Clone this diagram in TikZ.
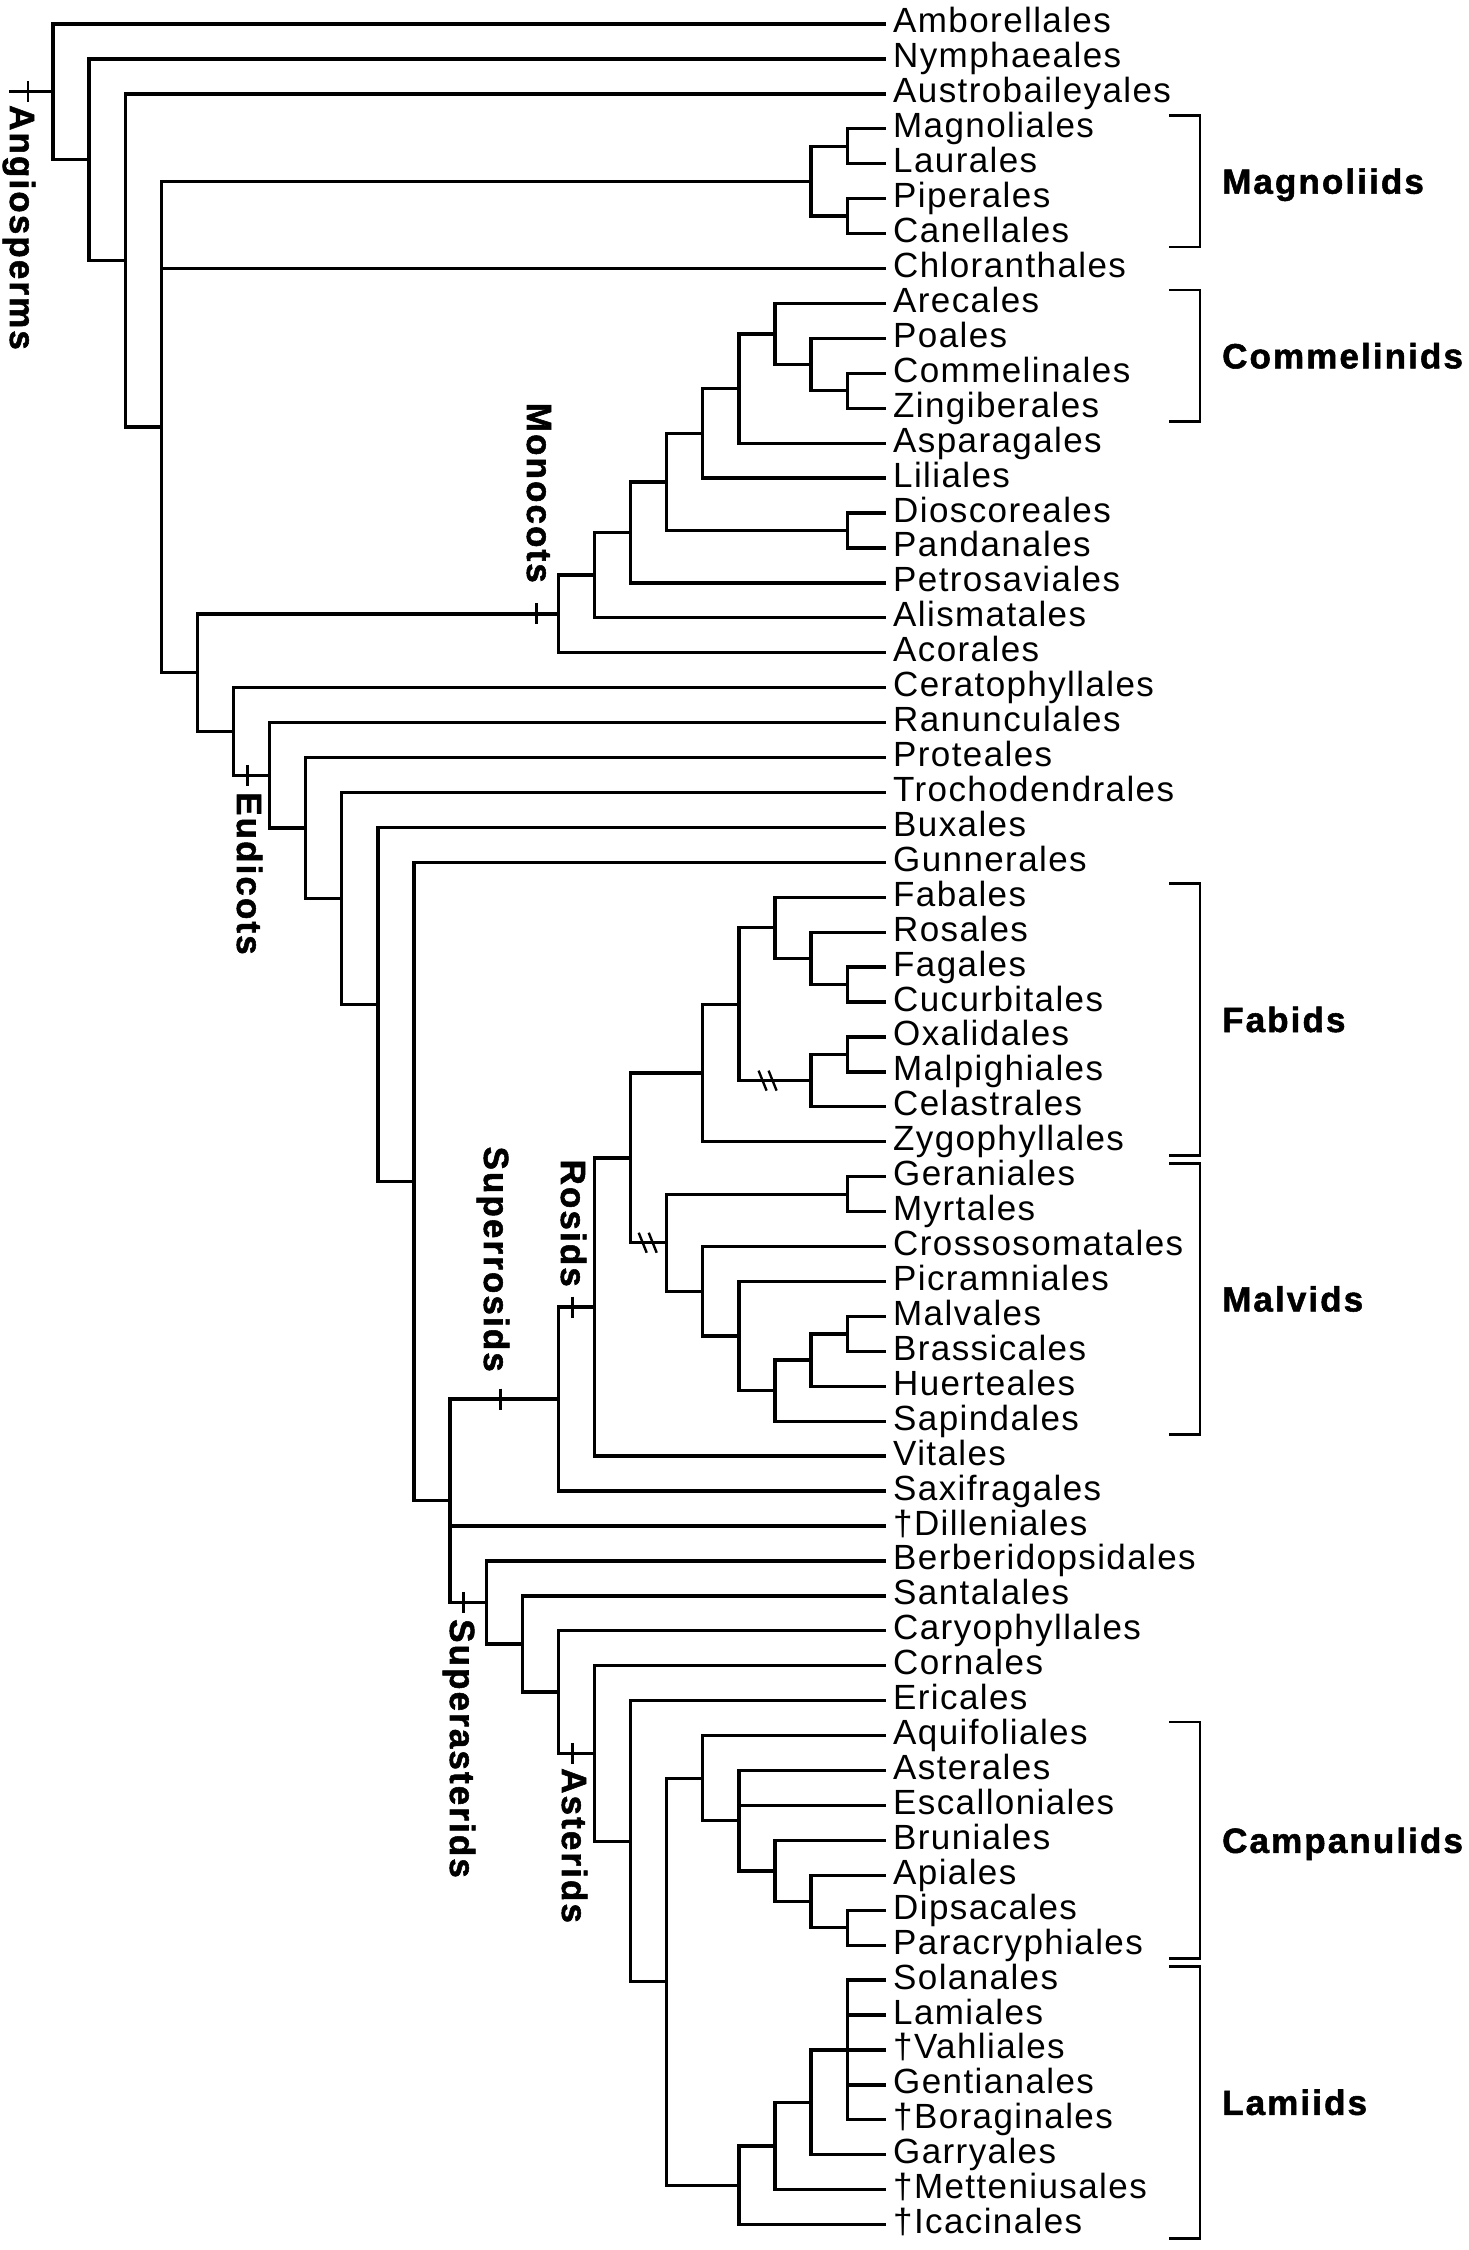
\documentclass[tikz,border=0pt]{standalone}
\usepackage{fontspec}
\setmainfont{Liberation Sans}
\newfontfamily\leaffont[LetterSpace=4]{Liberation Sans}
\newfontfamily\cladefont[LetterSpace=6,BoldFeatures={FakeBold=1.5}]{Liberation Sans}
\usetikzlibrary{calc}
\newcommand\mkclade[4]{\path let \p1=(#3), \p2=(#4) in ({(53+36.1*#2)*1pt},{0.5*\y1+0.5*\y2}) coordinate (#1);}
\tikzset{
  br/.style={line width=3.3pt},
  tickmark/.style={line width=2.6pt},
  slashmark/.style={line width=2.4pt},
  bracketline/.style={line width=2.8pt},
  leaf/.style={anchor=base west, inner sep=0pt, font=\leaffont\fontsize{35}{40}\selectfont},
  cladelab/.style={anchor=base west, inner sep=0pt, font=\cladefont\bfseries\fontsize{35}{40}\selectfont},
  rlab/.style={rotate=-90, inner sep=0pt, font=\cladefont\bfseries\fontsize{35}{40}\selectfont},
}
\begin{document}
\begin{tikzpicture}[x=1pt,y=1pt]
\fill[white] (0,0) rectangle (1468,-2250);
\useasboundingbox (0,0) rectangle (1468,-2250);
% leaves
\foreach \n [count=\i] in {Amborellales,Nymphaeales,Austrobaileyales,Magnoliales,Laurales,Piperales,Canellales,Chloranthales,Arecales,Poales,Commelinales,Zingiberales,Asparagales,Liliales,Dioscoreales,Pandanales,Petrosaviales,Alismatales,Acorales,Ceratophyllales,Ranunculales,Proteales,Trochodendrales,Buxales,Gunnerales,Fabales,Rosales,Fagales,Cucurbitales,Oxalidales,Malpighiales,Celastrales,Zygophyllales,Geraniales,Myrtales,Crossosomatales,Picramniales,Malvales,Brassicales,Huerteales,Sapindales,Vitales,Saxifragales,†Dilleniales,Berberidopsidales,Santalales,Caryophyllales,Cornales,Ericales,Aquifoliales,Asterales,Escalloniales,Bruniales,Apiales,Dipsacales,Paracryphiales,Solanales,Lamiales,†Vahliales,Gentianales,†Boraginales,Garryales,†Metteniusales,†Icacinales}{
  \coordinate (L\i) at (886,{-(24+34.93*(\i-1))});
  \node[leaf] (T\i) at (893,{-(33+34.93*(\i-1))}) {\n};
}
% internal nodes (bottom-up)
\mkclade{MA}{22}{L4}{L5}\mkclade{MB}{22}{L6}{L7}\mkclade{Mag}{21}{MA}{MB}
\mkclade{M22}{22}{L11}{L12}\mkclade{M21}{21}{L10}{M22}\mkclade{M20}{20}{L9}{M21}
\mkclade{M19}{19}{M20}{L13}\mkclade{M18}{18}{M19}{L14}\mkclade{M22b}{22}{L15}{L16}
\mkclade{M17}{17}{M18}{M22b}\mkclade{M16}{16}{M17}{L17}\mkclade{M15}{15}{M16}{L18}
\mkclade{M14}{14}{M15}{L19}
\mkclade{F22}{22}{L28}{L29}\mkclade{F21}{21}{L27}{F22}\mkclade{F20}{20}{L26}{F21}
\mkclade{Co22}{22}{L30}{L31}\mkclade{Co21}{21}{Co22}{L32}\mkclade{F19}{19}{F20}{Co21}
\mkclade{F18}{18}{F19}{L33}
\mkclade{V22a}{22}{L34}{L35}\mkclade{V22b}{22}{L38}{L39}\mkclade{V21}{21}{V22b}{L40}
\mkclade{V20}{20}{V21}{L41}\mkclade{V19}{19}{L37}{V20}\mkclade{V18}{18}{L36}{V19}
\mkclade{V17}{17}{V22a}{V18}
\mkclade{R16}{16}{F18}{V17}\mkclade{R15}{15}{R16}{L42}\mkclade{SR}{14}{R15}{L43}
\mkclade{Cp22}{22}{L55}{L56}\mkclade{Cp21}{21}{L54}{Cp22}\mkclade{Cp20}{20}{L53}{Cp21}
\mkclade{Cp19}{19}{L51}{Cp20}\mkclade{Cp18}{18}{L50}{Cp19}
\mkclade{La22}{22}{L57}{L61}\mkclade{La21}{21}{La22}{L62}\mkclade{La20}{20}{La21}{L63}
\mkclade{La19}{19}{La20}{L64}
\mkclade{E17}{17}{Cp18}{La19}\mkclade{A16}{16}{L49}{E17}\mkclade{A15}{15}{L48}{A16}
\mkclade{S14}{14}{L47}{A15}\mkclade{S13}{13}{L46}{S14}\mkclade{SA}{12}{L45}{S13}
\mkclade{N11}{11}{SR}{SA}\mkclade{N10}{10}{L25}{N11}\mkclade{N9}{9}{L24}{N10}
\mkclade{N8}{8}{L23}{N9}\mkclade{N7}{7}{L22}{N8}\mkclade{Eud}{6}{L21}{N7}
\mkclade{N5}{5}{L20}{Eud}\mkclade{N4}{4}{M14}{N5}\mkclade{N3}{3}{Mag}{N4}
\mkclade{N2}{2}{L3}{N3}\mkclade{N1}{1}{L2}{N2}\mkclade{N0}{0}{L1}{N1}
% branches
\foreach \p/\c in {N0/L1,N0/N1,N1/L2,N1/N2,N2/L3,N2/N3,N3/Mag,N3/L8,N3/N4,Mag/MA,Mag/MB,MA/L4,MA/L5,MB/L6,MB/L7,
N4/M14,N4/N5,M14/M15,M14/L19,M15/M16,M15/L18,M16/M17,M16/L17,M17/M18,M17/M22b,M22b/L15,M22b/L16,M18/M19,M18/L14,M19/M20,M19/L13,M20/L9,M20/M21,M21/L10,M21/M22,M22/L11,M22/L12,
N5/L20,N5/Eud,Eud/L21,Eud/N7,N7/L22,N7/N8,N8/L23,N8/N9,N9/L24,N9/N10,N10/L25,N10/N11,
N11/SR,N11/L44,N11/SA,
SR/R15,SR/L43,R15/R16,R15/L42,R16/F18,R16/V17,
F18/F19,F18/L33,F19/F20,F19/Co21,F20/L26,F20/F21,F21/L27,F21/F22,F22/L28,F22/L29,Co21/Co22,Co21/L32,Co22/L30,Co22/L31,
V17/V22a,V17/V18,V22a/L34,V22a/L35,V18/L36,V18/V19,V19/L37,V19/V20,V20/V21,V20/L41,V21/V22b,V21/L40,V22b/L38,V22b/L39,
SA/L45,SA/S13,S13/L46,S13/S14,S14/L47,S14/A15,A15/L48,A15/A16,A16/L49,A16/E17,E17/Cp18,E17/La19,
Cp18/L50,Cp18/Cp19,Cp19/L51,Cp19/L52,Cp19/Cp20,Cp20/L53,Cp20/Cp21,Cp21/L54,Cp21/Cp22,Cp22/L55,Cp22/L56,
La19/La20,La19/L64,La20/La21,La20/L63,La21/La22,La21/L62,La22/L57,La22/L58,La22/L59,La22/L60,La22/L61}
  {\draw[br] (\p) |- (\c);}
% root stem
\coordinate (root) at ($(N0)+(-44,0)$);
\draw[br] (root) -- (N0);
% ticks
\coordinate (tAng) at ($(N0)+(-25,0)$);
\coordinate (tMon) at ($(M14)+(-22,0)$);
\coordinate (tEud) at ($(Eud)+(-22,0)$);
\coordinate (tSRo) at ($(SR)+(-58,0)$);
\coordinate (tRos) at ($(R15)+(-22,0)$);
\coordinate (tSAs) at ($(SA)+(-23,0)$);
\coordinate (tAst) at ($(A15)+(-22,0)$);
\foreach \t in {tAng,tMon,tEud,tSRo,tRos,tSAs,tAst}
  {\draw[tickmark] ($(\t)+(0,10.5)$) -- ($(\t)+(0,-10.5)$);}
% slash marks
\coordinate (sFab) at ($(Co21)+(-43.5,0)$);
\coordinate (sMal) at ($(V17)+(-19,0)$);
\foreach \s in {sFab,sMal}{
  \draw[slashmark] ($(\s)+(-9,10)$) -- ($(\s)+(-1,-10)$);
  \draw[slashmark] ($(\s)+(1,10)$) -- ($(\s)+(9,-10)$);
}
% rotated clade labels
\node[rlab,anchor=base west] (angio) at (10,-105) {Angiosperms};
\node[rlab,anchor=base east] (mono) at (527,-583) {Monocots};
\node[rlab,anchor=base west] (eudi) at (237,-792) {Eudicots};
\node[rlab,anchor=base east] (rosi) at (561,-1287) {Rosids};
\node[rlab,anchor=base east] (supr) at (484,-1372) {Superrosids};
\node[rlab,anchor=base west] (supa) at (450,-1619) {Superasterids};
\node[rlab,anchor=base west] (aste) at (562,-1768) {Asterids};
% brackets
\foreach \a/\b/\lab in {4/7/Magnoliids,9/12/Commelinids,26/33/Fabids,34/41/Malvids,50/56/Campanulids,57/64/Lamiids}{
  \draw[bracketline] ($(L\a)+(283,13.5)$) -| ($(L\b)+(314,-13.5)$) -- ($(L\b)+(283,-13.5)$);
  \node[cladelab] (lab\lab) at ($($(L\a)!0.5!(L\b)$)+(336,-12.5)$) {\lab};
}
\end{tikzpicture}
\end{document}
